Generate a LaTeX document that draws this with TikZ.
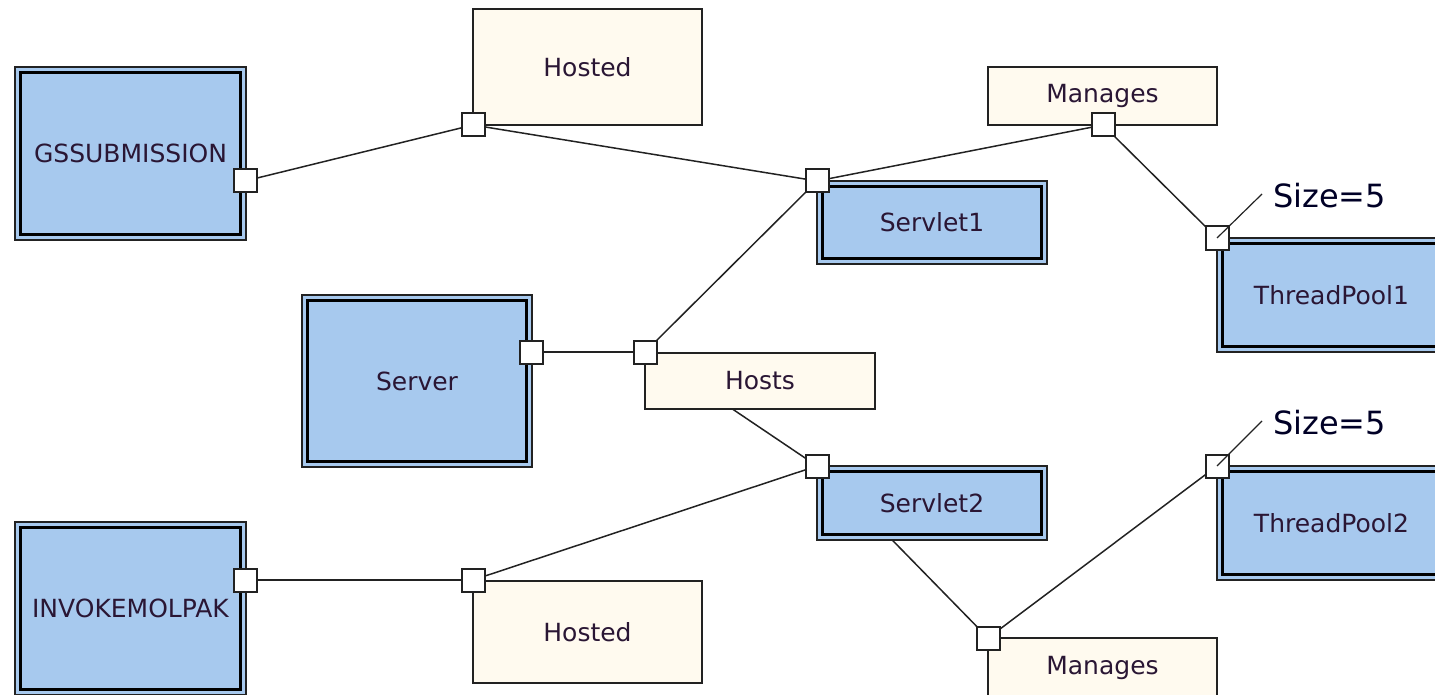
\documentclass[tikz,border=0pt]{standalone}
\usepackage{fontspec}
\setmainfont{DejaVu Sans}
\usetikzlibrary{calc}
\definecolor{entfill}{HTML}{A7C9EE}
\definecolor{relfill}{HTML}{FFFAEF}
\definecolor{edge}{HTML}{222222}
\definecolor{txt}{HTML}{2A1634}
\tikzset{
  entity/.style={draw=edge, line width=1.7pt, fill=entfill, anchor=north west, inner sep=0pt, outer sep=0pt,
    font=\fontsize{25}{29}\selectfont, text=txt},
  relbox/.style={draw=edge, line width=2.2pt, fill=relfill, anchor=north west, inner sep=0pt, outer sep=0pt,
    font=\fontsize{25}{29}\selectfont, text=txt},
  port/.style={draw=edge, line width=2pt, fill=white, minimum size=23pt, inner sep=0pt, outer sep=0pt},
  conn/.style={draw=edge, line width=1.5pt},
  leader/.style={draw=edge, line width=1.2pt},
  sizelbl/.style={font=\fontsize{32}{36}\selectfont, text=black!85!blue, anchor=west, inner sep=0pt},
  innerln/.style={draw=black, line width=2.6pt}
}
\begin{document}
\begin{tikzpicture}[x=1pt,y=-1pt]
\useasboundingbox (0,0) rectangle (1435,695);
\clip (0,0) rectangle (1435,695);
% relationship boxes
\node[relbox, minimum width=229pt, minimum height=116pt] (h1) at (473,9) {Hosted};
\node[relbox, minimum width=229pt, minimum height=58pt] (m1) at (988,67) {Manages};
\node[relbox, minimum width=230pt, minimum height=56pt] (hosts) at (645,353) {Hosts};
\node[relbox, minimum width=229pt, minimum height=102pt] (h2) at (473,581) {Hosted};
\node[relbox, minimum width=229pt, minimum height=60pt] (m2) at (988,638) {Manages};
% entity boxes
\node[entity, minimum width=231pt, minimum height=173pt] (gs) at (15,67) {GSSUBMISSION};
\node[entity, minimum width=230pt, minimum height=83pt] (s1) at (817,181) {Servlet1};
\node[entity, minimum width=229pt, minimum height=114pt] (tp1) at (1217,238) {ThreadPool1};
\node[entity, minimum width=230pt, minimum height=172pt] (srv) at (302,295) {Server};
\node[entity, minimum width=230pt, minimum height=74pt] (s2) at (817,466) {Servlet2};
\node[entity, minimum width=229pt, minimum height=114pt] (tp2) at (1217,466) {ThreadPool2};
\node[entity, minimum width=231pt, minimum height=173pt] (inv) at (15,522) {INVOKEMOLPAK};
\foreach \n in {gs,s1,tp1,srv,s2,tp2,inv}{
  \draw[innerln] ($(\n.north west)+(5.5,5.5)$) rectangle ($(\n.south east)+(-5.5,-5.5)$);
}
% ports
\node[port] (p1) at (245,181) {};
\node[port] (p2) at (473,125) {};
\node[port] (p3) at (817,181) {};
\node[port] (p4) at (1103,125) {};
\node[port] (p5) at (1217,238) {};
\node[port] (p6) at (531,352) {};
\node[port] (p7) at (645,352) {};
\node[port] (p8) at (817,466) {};
\node[port] (p9) at (245,580) {};
\node[port] (p10) at (473,580) {};
\node[port] (p11) at (988,638) {};
\node[port] (p12) at (1217,466) {};
\coordinate (hb) at ($(hosts.south west)!0.38!(hosts.south east)$);
\coordinate (sb) at ($(s2.south west)!0.327!(s2.south east)$);
% connectors
\draw[conn] (p1) -- (p2);
\draw[conn] (p2) -- (p3);
\draw[conn] (p3) -- (p4);
\draw[conn] (p4) -- (p5);
\draw[conn] (p6) -- (p7);
\draw[conn] (p7) -- (p3);
\draw[conn] (hb) -- (p8);
\draw[conn] (p9) -- (p10);
\draw[conn] (p10) -- (p8);
\draw[conn] (sb) -- (p11);
\draw[conn] (p11) -- (p12);
% size labels
\node[sizelbl] (sz1) at (1273,196) {Size=5};
\node[sizelbl] (sz2) at (1273,423) {Size=5};
\coordinate (l1) at (1262,194);
\coordinate (l2) at (1262,421);
\draw[leader] (l1) -- (p5.center);
\draw[leader] (l2) -- (p12.center);
\end{tikzpicture}
\end{document}
